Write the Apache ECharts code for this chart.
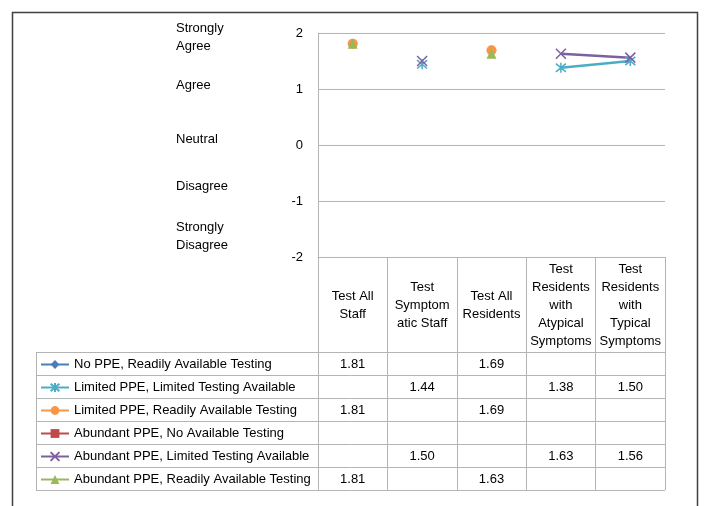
<!DOCTYPE html>
<html>
<head>
<meta charset="utf-8">
<script src="https://cdn.jsdelivr.net/npm/echarts@6/dist/echarts.min.js"></script>
<style>
html,body{margin:0;padding:0;background:#fff;}
#chart{width:704px;height:506px;}
</style>
</head>
<body>
<div id="chart"></div>
<script>
// ---- data ----
const categories = ['Test All\nStaff', 'Test\nSymptom\natic Staff', 'Test All\nResidents', 'Test\nResidents\nwith\nAtypical\nSymptoms', 'Test\nResidents\nwith\nTypical\nSymptoms'];
const seriesNames = [
  'No PPE, Readily Available Testing',
  'Limited PPE, Limited Testing Available',
  'Limited PPE, Readily Available Testing',
  'Abundant PPE, No Available Testing',
  'Abundant PPE, Limited Testing Available',
  'Abundant PPE, Readily Available Testing'
];
const noPPEReadily        = [1.81, null, 1.69, null, null];
const limitedLimited      = [null, 1.44, null, 1.38, 1.50];
const limitedReadily      = [1.81, null, 1.69, null, null];
const abundantNone        = [null, null, null, null, null];
const abundantLimited     = [null, 1.50, null, 1.63, 1.56];
const abundantReadily     = [1.81, null, 1.63, null, null];
const yTicks = [-2, -1, 0, 1, 2];
const scaleLabels = ['Strongly\nAgree', 'Agree', 'Neutral', 'Disagree', 'Strongly\nDisagree'];

const seriesData = [noPPEReadily, limitedLimited, limitedReadily, abundantNone, abundantLimited, abundantReadily];
const colors = ['#4A7EBB', '#4BACC6', '#F79646', '#BE4B48', '#7D60A0', '#98B954'];
const symbols = [
  'diamond',
  'path://M0,0L10,10M10,0L0,10M5,-1L5,11',
  'circle',
  'rect',
  'path://M0,0L10,10M10,0L0,10',
  'triangle'
];
const FONT = 'Liberation Sans';
const FS = 13;
const gridColor = '#B4B4B4';

const chart = echarts.init(document.getElementById('chart'), null, {renderer: 'canvas'});

const series = seriesData.map((d, i) => {
  const stroke = symbols[i].startsWith('path://');
  return {
    name: seriesNames[i],
    type: 'line',
    data: d,
    connectNulls: false,
    symbol: symbols[i],
    symbolSize: stroke ? 10 : (symbols[i] === 'rect' ? 8 : 10),
    color: colors[i],
    lineStyle: {color: colors[i], width: 2.5},
    itemStyle: stroke ? {color: colors[i], borderColor: colors[i], borderWidth: 1.5} : {color: colors[i], borderWidth: 0},
    emphasis: {disabled: true},
    animation: false
  };
});

const option = {
  animation: false,
  textStyle: {fontFamily: FONT},
  grid: {left: 318, top: 33, width: 347, height: 224},
  xAxis: {
    type: 'category',
    data: categories,
    boundaryGap: true,
    axisLine: {show: true, onZero: false, lineStyle: {color: gridColor, width: 1}},
    axisTick: {show: true, length: 233, lineStyle: {color: gridColor, width: 1}},
    axisLabel: {
      interval: 0, margin: 48, verticalAlign: 'middle', align: 'center',
      fontFamily: FONT, fontSize: FS, color: '#000', lineHeight: 18
    },
    splitLine: {show: false}
  },
  yAxis: {
    type: 'value',
    min: yTicks[0], max: yTicks[yTicks.length - 1], interval: 1,
    axisLine: {show: true, lineStyle: {color: gridColor, width: 1}},
    axisTick: {show: false},
    axisLabel: {margin: 15, fontFamily: FONT, fontSize: FS, color: '#000'},
    splitLine: {show: true, lineStyle: {color: gridColor, width: 1}}
  },
  legend: {
    orient: 'vertical',
    left: 40, top: 358, padding: 0,
    itemWidth: 28, itemHeight: 11, itemGap: 10,
    selectedMode: false,
    textStyle: {fontFamily: FONT, fontSize: FS, color: '#000', lineHeight: 13},
    data: seriesNames
  },
  series: series
};
chart.setOption(option);

// ---- table, annotations and frame built from arrays ----
const rowTop = 352, rowH = 23, tableLeft = 36;
const g = [];
g.push({type: 'rect', shape: {x: 12.5, y: 12.5, width: 685, height: 520}, style: {fill: null, stroke: '#404040', lineWidth: 1.5}, silent: true});
const colCenters = categories.map((c, i) => chart.convertToPixel({xAxisIndex: 0}, i));
const right = colCenters[colCenters.length - 1] + (colCenters[1] - colCenters[0]) / 2;
for (let r = 0; r <= seriesNames.length; r++) {
  const y = rowTop + r * rowH + 0.5;
  g.push({type: 'line', shape: {x1: tableLeft, y1: y, x2: right, y2: y}, style: {stroke: gridColor, lineWidth: 1}, silent: true});
}
g.push({type: 'line', shape: {x1: tableLeft + 0.5, y1: rowTop, x2: tableLeft + 0.5, y2: rowTop + rowH * seriesNames.length}, style: {stroke: gridColor, lineWidth: 1}, silent: true});
seriesData.forEach((d, r) => {
  d.forEach((v, c) => {
    if (v === null) return;
    g.push({type: 'text', x: colCenters[c], y: rowTop + r * rowH + rowH / 2 + 0.5,
      style: {text: v.toFixed(2), fontFamily: FONT, fontSize: FS, fill: '#000', align: 'center', verticalAlign: 'middle'}, silent: true});
  });
});
const scaleY = [37, 85, 139, 186, 236];
scaleLabels.forEach((s, i) => {
  g.push({type: 'text', x: 176, y: scaleY[i],
    style: {text: s, fontFamily: FONT, fontSize: FS, fill: '#000', align: 'left', verticalAlign: 'middle', lineHeight: 18}, silent: true});
});
chart.setOption({graphic: g});
</script>
</body>
</html>
